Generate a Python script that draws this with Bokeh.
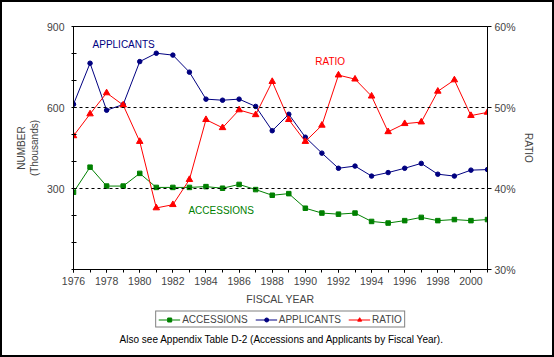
from bokeh.plotting import figure
from bokeh.layouts import column
from bokeh.models import (Range1d, LinearAxis, FixedTicker, Span, Label, Legend,
                          LegendItem, PrintfTickFormatter)
from bokeh.embed import file_html
from bokeh.resources import INLINE

years = list(range(1976, 2002))
accessions = [286, 379, 309, 309, 356, 304, 304, 304, 307, 301, 315, 296, 275,
              281, 227, 209, 205, 209, 178, 172, 181, 193, 181, 185, 181, 185]
applicants = [612, 764, 590, 611, 770, 801, 794, 731, 631, 627, 631, 604, 514,
              575, 490, 431, 375, 383, 346, 359, 375, 393, 353, 346, 368, 370]
ratio = [46.5, 49.2, 51.8, 50.3, 45.8, 37.6, 38.0, 41.1, 48.5, 47.5, 49.7, 49.1, 53.2,
         48.5, 45.8, 47.8, 54.0, 53.5, 51.4, 47.0, 48.0, 48.2, 52.0, 53.4, 49.0, 49.4]

series_names = ["ACCESSIONS", "APPLICANTS", "RATIO"]
left_ticks = [0, 300, 600, 900]
left_minor = [100, 200, 400, 500, 700, 800]
right_ticks = [30, 40, 50, 60]
x_major = list(range(1976, 2001, 2))
grid_levels = [300, 600]
footnote = "Also see Appendix Table D-2 (Accessions and Applicants by Fiscal Year)."

FONT = "Liberation Sans"
GREEN = "#008000"
NAVY = "#000080"
RED = "#FF0000"
styles_ = [(GREEN, "square", 4.5), (NAVY, "circle", 4.5), (RED, "triangle", 6.5)]

p = figure(frame_width=414, frame_height=243, output_backend="svg", toolbar_location=None,
           x_range=Range1d(1976, 2001), y_range=Range1d(0, 900),
           min_border_left=71, min_border_right=65, min_border_top=24,
           min_border_bottom=39)
p.extra_y_ranges = {"ratio": Range1d(30, 60)}
p.xgrid.visible = False
p.ygrid.visible = False
p.outline_line_color = "black"
p.outline_line_width = 1
p.background_fill_color = "white"
p.border_fill_color = "white"

# x axis
xa = p.xaxis[0]
xa.ticker = FixedTicker(ticks=x_major, minor_ticks=years)
xa.major_tick_in = 0
xa.major_tick_out = 3
xa.minor_tick_in = 0
xa.minor_tick_out = 3
xa.major_label_standoff = 4
xa.major_label_text_font = FONT
xa.major_label_text_font_size = "10.5px"
xa.axis_label = "FISCAL YEAR"
xa.axis_label_text_font = FONT
xa.axis_label_text_font_size = "10.5px"
xa.axis_label_text_font_style = "normal"
xa.axis_label_standoff = 5

# left axis
ya = p.yaxis[0]
ya.ticker = FixedTicker(ticks=left_ticks, minor_ticks=left_minor)
ya.major_label_overrides = {0: ""}
ya.major_tick_in = 3
ya.major_tick_out = 2
ya.minor_tick_in = 3
ya.minor_tick_out = 2
ya.major_label_standoff = 7
ya.major_label_text_font = FONT
ya.major_label_text_font_size = "10.5px"
ya.axis_label = "NUMBER\n(Thousands)"
ya.axis_label_text_font = FONT
ya.axis_label_text_font_size = "10px"
ya.axis_label_text_font_style = "normal"
ya.axis_label_standoff = 4

# right axis
ra = LinearAxis(y_range_name="ratio", ticker=FixedTicker(ticks=right_ticks),
                formatter=PrintfTickFormatter(format="%d%%"))
ra.major_tick_in = 0
ra.major_tick_out = 4
ra.minor_tick_in = 0
ra.minor_tick_out = 0
ra.major_label_standoff = 3
ra.major_label_text_font = FONT
ra.major_label_text_font_size = "10.5px"
ra.axis_label = "RATIO"
ra.axis_label_text_font = FONT
ra.axis_label_text_font_size = "10px"
ra.axis_label_text_font_style = "normal"
ra.axis_label_standoff = 4
ra.axis_label_orientation = "vertical"
p.add_layout(ra, "right")

for lvl in grid_levels:
    p.add_layout(Span(location=lvl, dimension="width", line_color="black",
                      line_dash="3 3", line_width=1))

p.line(years, accessions, line_color=GREEN, line_width=1)
p.scatter(years, accessions, marker="square", size=4.5, color=GREEN)
p.line(years, applicants, line_color=NAVY, line_width=1)
p.scatter(years, applicants, marker="circle", size=4.5, color=NAVY)
p.line(years, ratio, line_color=RED, line_width=1, y_range_name="ratio")
p.scatter(years, ratio, marker="triangle", size=6.5, color=RED, y_range_name="ratio")


def lab(fig, text, x, y, color="black", align="left"):
    fig.add_layout(Label(x=x, y=y, text=text, text_color=color, text_font=FONT,
                         text_font_size="10px", text_align=align,
                         text_baseline="middle"))


lab(p, "APPLICANTS", 1977.15, 833, NAVY)
lab(p, "RATIO", 1990.6, 770, RED)
lab(p, "ACCESSIONS", 1982.94, 218, GREEN)


def strip(h):
    f = figure(width=550, height=h, output_backend="svg", toolbar_location=None,
               x_range=Range1d(0, 550), y_range=Range1d(0, h),
               x_axis_location=None, y_axis_location=None, min_border=0)
    f.grid.visible = False
    f.outline_line_color = None
    f.background_fill_color = "white"
    f.border_fill_color = "white"
    return f


# legend strip (proxy renderers hold one off-screen point only to draw legend swatches)
q = strip(22)
items = []
for name, (color, marker, size) in zip(series_names, styles_):
    lr = q.line(x=[-1000, -999], y=[-1000, -1000], line_color=color, line_width=1)
    sr = q.scatter(x=[-1000], y=[-1000], marker=marker, size=size, color=color)
    items.append(LegendItem(label=name, renderers=[lr, sr]))
q.add_layout(Legend(items=items, orientation="horizontal", location="center",
                    glyph_width=22, glyph_height=10, label_height=10,
                    label_standoff=2, spacing=7, padding=2, margin=0,
                    label_text_font=FONT, label_text_font_size="10px",
                    border_line_color="black", border_line_width=1,
                    background_fill_color="white", background_fill_alpha=1))

# footnote strip
r = strip(25)
lab(r, footnote, 277, 16, align="center")

lay = column(p, q, r, spacing=0)
lay.styles = {"border": "2px solid black", "box-sizing": "border-box",
              "width": "554px", "height": "357px", "overflow": "hidden"}

open("out.html", "w").write(file_html(lay, INLINE))
